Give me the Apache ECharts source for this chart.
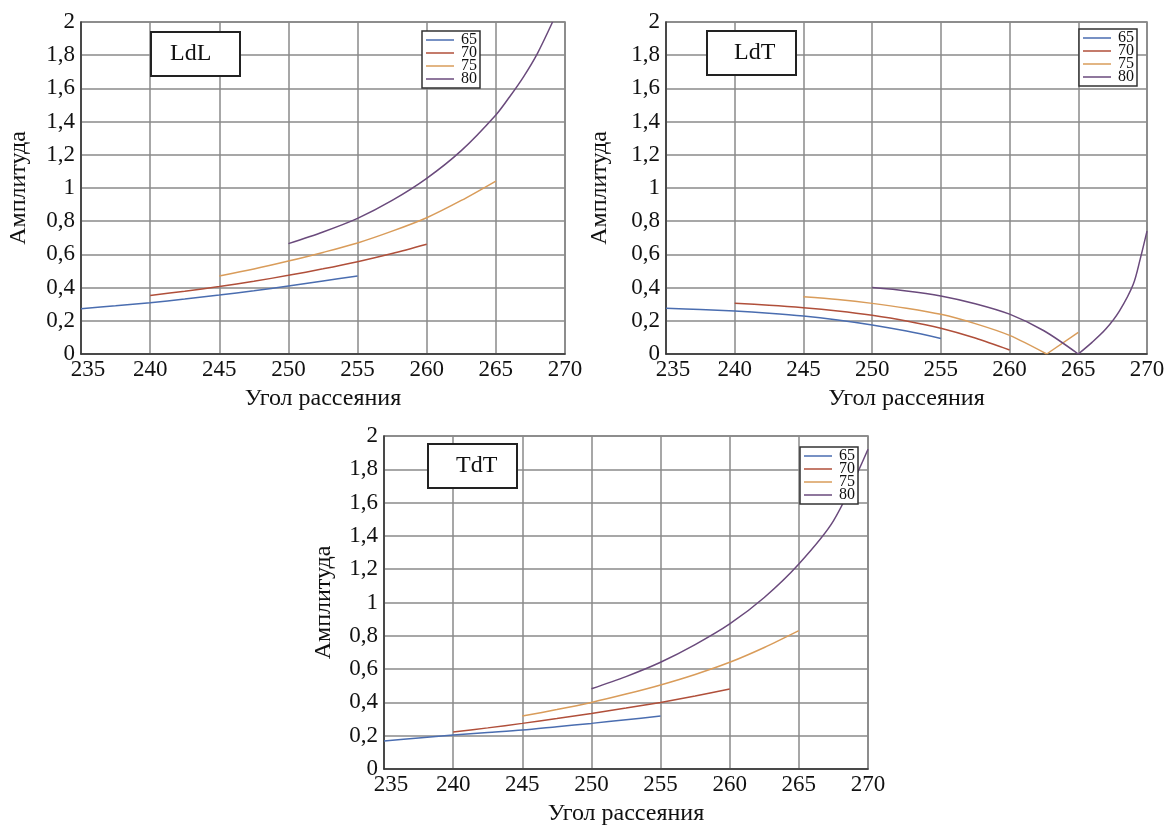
<!DOCTYPE html>
<html><head><meta charset="utf-8">
<script src="https://cdn.jsdelivr.net/npm/echarts@6/dist/echarts.min.js"></script>
<style>html,body{margin:0;padding:0;background:#fff}#c{width:1168px;height:829px}</style>
</head><body><div id="c"></div>
<script>
// ---- labels ----
const panelTitles = ['LdL', 'LdT', 'TdT'];
const seriesNames = ['65', '70', '75', '80'];
const xAxisTitle = 'Угол рассеяния';
const yAxisTitle = 'Амплитуда';
const angleTicks = [235, 240, 245, 250, 255, 260, 265, 270];
const ampTicks = [0, 0.2, 0.4, 0.6, 0.8, 1, 1.2, 1.4, 1.6, 1.8, 2];

// ---- LdL ----
const ldl65A = [235, 237.5, 240, 242.5, 245, 247.5, 250, 252.5, 255];
const ldl65V = [0.273, 0.29, 0.309, 0.331, 0.355, 0.381, 0.41, 0.44, 0.47];
const ldl70A = [240, 242.5, 245, 247.5, 250, 252.5, 255, 257.5, 260];
const ldl70V = [0.353, 0.378, 0.406, 0.438, 0.474, 0.513, 0.556, 0.605, 0.661];
const ldl75A = [245, 247.5, 250, 252.5, 255, 257.5, 260, 262.5, 265];
const ldl75V = [0.47, 0.512, 0.56, 0.612, 0.669, 0.74, 0.821, 0.925, 1.042];
const ldl80A = [250, 252.5, 255, 257.5, 260, 262.5, 265, 266, 267, 268, 269.1];
const ldl80V = [0.665, 0.735, 0.817, 0.925, 1.058, 1.225, 1.44, 1.55, 1.67, 1.81, 2.0];

// ---- LdT ----
const ldt65A = [235, 237.5, 240, 242.5, 245, 247.5, 250, 252.5, 255];
const ldt65V = [0.275, 0.268, 0.259, 0.246, 0.229, 0.205, 0.175, 0.138, 0.094];
const ldt70A = [240, 242.5, 245, 247.5, 250, 252.5, 255, 257.5, 260];
const ldt70V = [0.305, 0.294, 0.279, 0.259, 0.233, 0.199, 0.155, 0.096, 0.024];
const ldt75A = [245, 247.5, 250, 252.5, 255, 257.5, 260, 262.7];
const ldt75V = [0.345, 0.328, 0.305, 0.276, 0.239, 0.183, 0.112, 0];
const ldt75bA = [262.7, 265];
const ldt75bV = [0, 0.13];
const ldt80A = [250, 252.5, 255, 257.5, 260, 262.5, 265];
const ldt80V = [0.40, 0.38, 0.35, 0.303, 0.24, 0.14, 0];
const ldt80bA = [265, 266, 267, 268, 269, 269.5, 270];
const ldt80bV = [0, 0.07, 0.15, 0.26, 0.42, 0.57, 0.74];

// ---- TdT ----
const tdt65A = [235, 237.5, 240, 242.5, 245, 247.5, 250, 252.5, 255];
const tdt65V = [0.168, 0.186, 0.204, 0.219, 0.234, 0.254, 0.274, 0.296, 0.318];
const tdt70A = [240, 242.5, 245, 247.5, 250, 252.5, 255, 257.5, 260];
const tdt70V = [0.222, 0.247, 0.274, 0.303, 0.334, 0.366, 0.40, 0.438, 0.48];
const tdt75A = [245, 247.5, 250, 252.5, 255, 257.5, 260, 262.5, 265];
const tdt75V = [0.318, 0.357, 0.40, 0.45, 0.505, 0.568, 0.641, 0.73, 0.831];
const tdt80A = [250, 252.5, 255, 257.5, 260, 262.5, 265, 267.5, 270];
const tdt80V = [0.482, 0.555, 0.641, 0.747, 0.871, 1.03, 1.231, 1.49, 1.92];

const colors = {'65': '#4a6db0', '70': '#b04f3a', '75': '#d99c5a', '80': '#6a4a7c'};
const FONT = '"Liberation Serif", "Times New Roman", serif';

const grids = [
  {left: 81, top: 22, width: 484, height: 332},
  {left: 666, top: 22, width: 481, height: 332},
  {left: 384, top: 436, width: 484, height: 333}
];
const yNameGaps = [50, 54, 48];
const titlePos = [
  {left: 151, top: 32, padding: [10, 29, 10, 19]},
  {left: 707, top: 31, padding: [10, 21, 10, 27]},
  {left: 428, top: 444, padding: [10, 20, 10, 28]}
];
const legendPos = [{left: 422, top: 31}, {left: 1079, top: 29}, {left: 800, top: 447}];

function zip(a, v) { return a.map((x, i) => [x, v[i]]); }
function line(name, a, v, idx, smooth) {
  return {
    name: name, type: 'line', xAxisIndex: idx, yAxisIndex: idx,
    data: zip(a, v), smooth: smooth === undefined ? 0.3 : smooth,
    symbol: 'none', showSymbol: false, color: colors[name],
    lineStyle: {width: 1.5, color: colors[name]}, clip: true
  };
}

const series = [
  line('65', ldl65A, ldl65V, 0), line('70', ldl70A, ldl70V, 0),
  line('75', ldl75A, ldl75V, 0), line('80', ldl80A, ldl80V, 0),
  line('65', ldt65A, ldt65V, 1), line('70', ldt70A, ldt70V, 1),
  line('75', ldt75A, ldt75V, 1), line('75', ldt75bA, ldt75bV, 1, false),
  line('80', ldt80A, ldt80V, 1), line('80', ldt80bA, ldt80bV, 1),
  line('65', tdt65A, tdt65V, 2), line('70', tdt70A, tdt70V, 2),
  line('75', tdt75A, tdt75V, 2), line('80', tdt80A, tdt80V, 2)
];

const xAxes = grids.map((g, i) => ({
  type: 'value', gridIndex: i,
  min: angleTicks[0], max: angleTicks[angleTicks.length - 1], interval: angleTicks[1] - angleTicks[0],
  name: xAxisTitle, nameLocation: 'middle', nameGap: 33,
  nameTextStyle: {fontFamily: FONT, fontSize: 24, color: '#111'},
  axisLine: {show: true, lineStyle: {color: '#333', width: 1.5}},
  axisTick: {show: false},
  splitLine: {show: true, lineStyle: {color: '#8a8a8a', width: 1.5}},
  axisLabel: {
    fontFamily: FONT, fontSize: 23, color: '#111', margin: 4,
    formatter: v => v === angleTicks[0] ? '{a|' + v + '}' : String(v),
    rich: {a: {fontFamily: FONT, fontSize: 23, color: '#111', padding: [0, 0, 0, 14]}}
  }
}));
const yAxes = grids.map((g, i) => ({
  type: 'value', gridIndex: i,
  min: ampTicks[0], max: ampTicks[ampTicks.length - 1], interval: ampTicks[1] - ampTicks[0],
  name: yAxisTitle, nameLocation: 'middle', nameGap: yNameGaps[i], nameRotate: 90,
  nameTextStyle: {fontFamily: FONT, fontSize: 24, color: '#111'},
  axisLine: {show: true, lineStyle: {color: '#333', width: 1.5}},
  axisTick: {show: false},
  splitLine: {show: true, lineStyle: {color: '#8a8a8a', width: 1.5}},
  axisLabel: {
    fontFamily: FONT, fontSize: 23, color: '#111', margin: 6,
    formatter: v => String(Math.round(v * 10) / 10).replace('.', ',')
  }
}));

const option = {
  animation: false,
  backgroundColor: '#fff',
  grid: grids.map(g => Object.assign({show: true, borderColor: '#777', borderWidth: 1.5, backgroundColor: 'transparent'}, g)),
  xAxis: xAxes,
  yAxis: yAxes,
  title: panelTitles.map((t, i) => ({
    text: t, left: titlePos[i].left, top: titlePos[i].top, padding: titlePos[i].padding,
    borderColor: '#222', borderWidth: 2, backgroundColor: '#fff',
    textStyle: {fontFamily: FONT, fontSize: 24, fontWeight: 'normal', color: '#111', lineHeight: 24}
  })),
  legend: legendPos.map(p => ({
    data: seriesNames, orient: 'vertical', left: p.left, top: p.top,
    icon: 'rect', itemWidth: 28, itemHeight: 1.5, itemGap: -3,
    padding: [1, 3, 1, 4], borderColor: '#333', borderWidth: 1.5, backgroundColor: '#fff',
    selectedMode: false,
    textStyle: {fontFamily: FONT, fontSize: 16, color: '#111', lineHeight: 13, padding: [0, 0, 0, 2]}
  })),
  series: series
};

const chart = echarts.init(document.getElementById('c'), null, {renderer: 'canvas'});
chart.setOption(option);
</script>
</body></html>
